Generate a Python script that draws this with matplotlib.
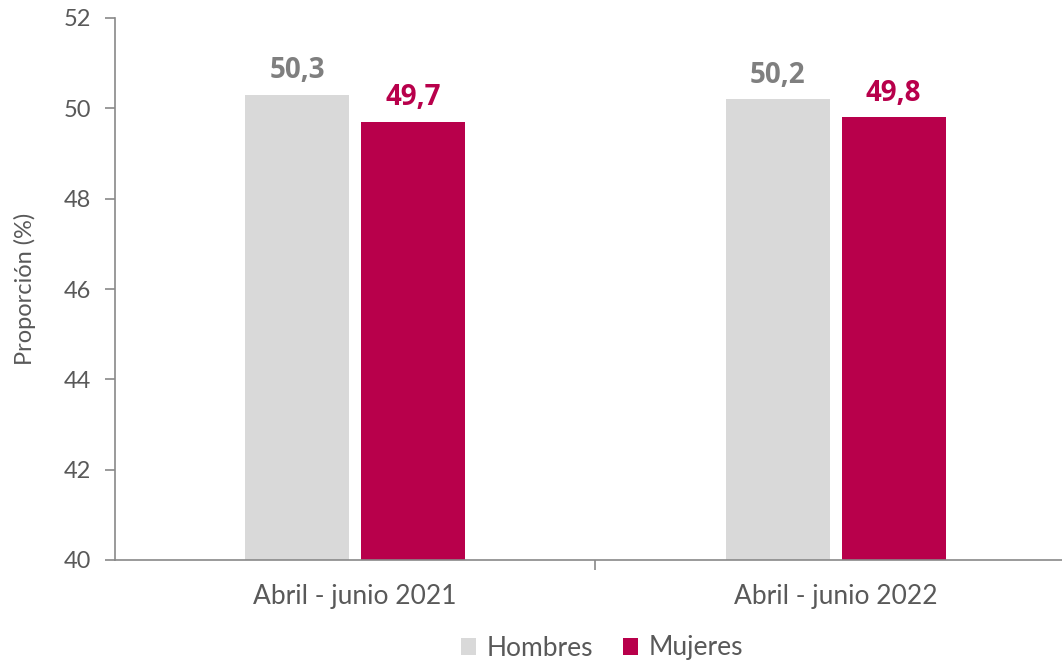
import numpy as np
import matplotlib.pyplot as plt

# Data
periods = ["Abril - junio 2021", "Abril - junio 2022"]
hombres = [50.3, 50.2]
mujeres = [49.7, 49.8]
y_ticks = [40, 42, 44, 46, 48, 50, 52]

gray = "#D9D9D9"
crimson = "#B8004B"
text_col = "#595959"

plt.rcParams['font.family'] = ['Lato', 'DejaVu Sans']

fig = plt.figure(figsize=(10.62, 6.64), dpi=100)
ax = fig.add_axes([115 / 1062, 104 / 664, 947 / 1062, 542 / 664])

x = np.arange(len(periods))
w = 0.216
off = 0.1206
b1 = ax.bar(x - off, hombres, w, color=gray, label="Hombres", zorder=2)
b2 = ax.bar(x + off, mujeres, w, color=crimson, label="Mujeres", zorder=2)

# value labels above the bars, decimal comma
for bars, vals, col in [(b1, hombres, "#7F7F7F"), (b2, mujeres, crimson)]:
    for r, v in zip(bars, vals):
        ax.annotate(f"{v:.1f}".replace(".", ","), (r.get_x() + r.get_width() / 2, v),
                    xytext=(0, 7), textcoords="offset points", ha="center", va="bottom",
                    fontsize=20, fontweight="bold", color=col,
                    family=["Open Sans", "DejaVu Sans"])

ax.set_ylim(40, 52)
ax.set_yticks(y_ticks)
ax.set_xlim(-0.5, 0.5 + (1062 - 595) / 481)
ax.set_xticks([0.5], minor=False)
ax.set_xticklabels([])
ax.tick_params(axis="x", which="major", length=7, color="#898989", width=1.2)
for xi, lab in zip(x, periods):
    ax.text(xi, -0.045, lab, transform=ax.get_xaxis_transform(), ha="center", va="top",
            fontsize=19, color=text_col)

ax.tick_params(axis="y", length=7, color="#898989", width=1.2, labelsize=17,
               labelcolor=text_col, pad=10)
ax.set_ylabel("Proporción (%)", fontsize=17, color=text_col, labelpad=20)
for s in ["top", "right"]:
    ax.spines[s].set_visible(False)
for s in ["left", "bottom"]:
    ax.spines[s].set_color("#898989")
    ax.spines[s].set_linewidth(1.2)

fig.legend(handles=[b1, b2], loc="center", bbox_to_anchor=(602 / 1062, 1 - 648 / 664),
           ncol=2, frameon=False, fontsize=19, labelcolor=text_col,
           handlelength=0.6, handleheight=0.6, handletextpad=0.4, columnspacing=1.1)

fig.savefig("out.png", dpi=100)
